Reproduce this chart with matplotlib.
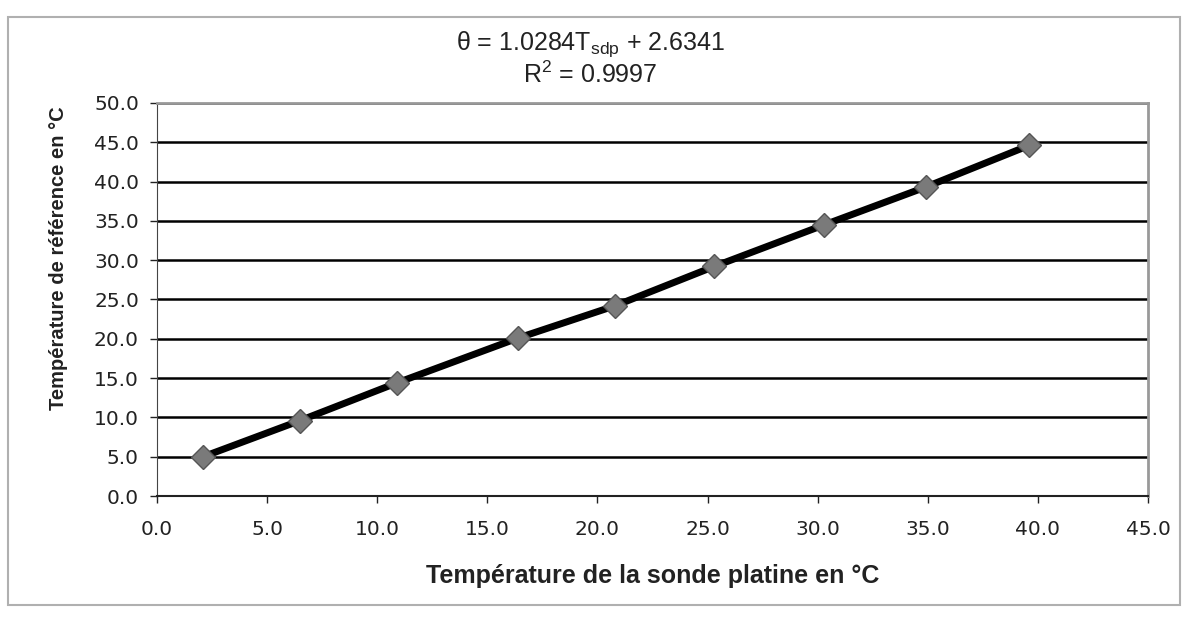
import numpy as np
import matplotlib.pyplot as plt
from matplotlib.patches import Rectangle

# températures
t_sonde = [2.1, 6.5, 10.9, 16.4, 20.8, 25.3, 30.3, 34.9, 39.6]
t_ref = [5.0, 9.6, 14.4, 20.1, 24.2, 29.2, 34.5, 39.3, 44.6]

x_ticks = np.arange(0, 50, 5)
y_ticks = np.arange(0, 55, 5)

plt.rcParams["font.family"] = ["Liberation Sans", "DejaVu Sans"]
plt.rcParams["mathtext.fontset"] = "custom"
plt.rcParams["mathtext.rm"] = "Liberation Sans"

fig = plt.figure(figsize=(11.88, 6.2), dpi=100)
ax = fig.add_axes([157 / 1188, 124 / 620, (1148 - 157) / 1188, (496 - 103) / 620])

# cadre du graphique
fig.patches.append(Rectangle((8 / 1188, 15 / 620), 1172 / 1188, 588 / 620,
                             transform=fig.transFigure, fill=False,
                             edgecolor="#b0b0b0", lw=1.5))

ax.plot(t_sonde, t_ref, color="black", lw=5, zorder=3)
ax.plot(t_sonde, t_ref, ls="none", marker="D", ms=12.5, mfc="#7a7a7a",
        mec="#555555", mew=1, zorder=4)

ax.set_xlim(0, 45)
ax.set_ylim(0, 50)
ax.set_xticks(x_ticks)
ax.set_yticks(y_ticks)
ax.set_xticklabels(["%.1f" % v for v in x_ticks], family="DejaVu Sans")
ax.set_yticklabels(["%.1f" % v for v in y_ticks], family="DejaVu Sans")
ax.tick_params(axis="both", labelsize=14.5, colors="#222222", length=5, width=1,
               direction="out")
ax.tick_params(axis="x", pad=12)
ax.tick_params(axis="y", pad=8)
ax.yaxis.grid(True, color="black", lw=1.8)
ax.set_axisbelow(True)

ax.spines["left"].set_color("#444444")
ax.spines["bottom"].set_color("#222222")
ax.spines["bottom"].set_linewidth(1.5)
ax.spines["top"].set_color("#999999")
ax.spines["top"].set_linewidth(2)
ax.spines["right"].set_color("#999999")
ax.spines["right"].set_linewidth(2)

ax.set_xlabel("Température de la sonde platine en °C", fontsize=18,
              fontweight="bold", color="#222222", labelpad=18)
ax.set_ylabel("Température de référence en °C", fontsize=14.5,
              fontweight="bold", color="#222222")
ax.yaxis.set_label_coords(-0.09, 0.606)

fig.text(0.497, 0.928, r"θ = 1.0284T$_{\mathregular{sdp}}$ + 2.6341",
         ha="center", va="center", fontsize=18, color="#222222")
fig.text(0.497, 0.879, r"R$^{\mathregular{2}}$ = 0.9997",
         ha="center", va="center", fontsize=18, color="#222222")

fig.savefig("out.png", dpi=100)
